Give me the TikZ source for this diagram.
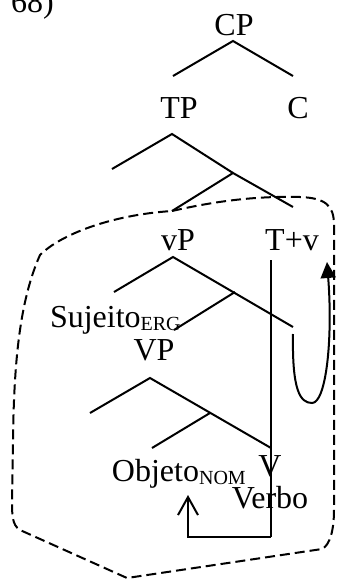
\documentclass[tikz,border=0pt]{standalone}
\usepackage{fontspec}
\setmainfont{Liberation Serif}
\usetikzlibrary{arrows.meta}
\newcommand{\subscr}[1]{\raisebox{-1.5pt}{\fontsize{10}{10}\selectfont #1}}
\begin{document}
\begin{tikzpicture}[x=0.5pt,y=-0.5pt,line width=1pt,
    rotulo/.style={anchor=base,inner sep=0pt,font=\fontsize{16}{19}\selectfont}]
    \useasboundingbox (0,0) rectangle (337,579);
    % Rotulos
    \node[rotulo,anchor=base west] (num) at (10,12) {68)};
    \node[rotulo] (CP) at (234,35) {CP};
    \node[rotulo] (TP) at (179,118) {TP};
    \node[rotulo] (C) at (298,118) {C};
    \node[rotulo] (vP) at (178,250) {vP};
    \node[rotulo] (Tv) at (292,250) {T+v};
    \node[rotulo,anchor=base west] (suj) at (49,327) {Sujeito\subscr{ERG}};
    \node[rotulo] (VP) at (154,360) {VP};
    \node[rotulo,anchor=base west] (obj) at (111,481) {Objeto\subscr{NOM}};
    \node[rotulo] (V) at (270,476) {V};
    \node[rotulo] (verbo) at (270,508) {Verbo};
    % Pontos dos ramos
    \coordinate (cp) at (233,41);
    \coordinate (cpE) at (173,76);
    \coordinate (cpD) at (293,76);
    \coordinate (tp) at (172,134);
    \coordinate (tpE) at (112,169);
    \coordinate (tb) at (233,173);
    \coordinate (tbE) at (172,211);
    \coordinate (tbD) at (293,207);
    \coordinate (vp) at (173,257);
    \coordinate (vpE) at (114,292);
    \coordinate (vb) at (235,292);
    \coordinate (vbE) at (174,330);
    \coordinate (vbD) at (293,327);
    \coordinate (VPa) at (150,378);
    \coordinate (VPE) at (90,413);
    \coordinate (Vb) at (210,413);
    \coordinate (VbE) at (152,448);
    \coordinate (VbD) at (271,448);
    \coordinate (tvTopo) at (271,260);
    \coordinate (tvBase) at (271,537);
    \coordinate (objCanto) at (188,537);
    \coordinate (objPonta) at (188,495);
    % Arvore
    \draw (cpE) -- (cp) -- (cpD);
    \draw (tpE) -- (tp) -- (tb);
    \draw (tbE) -- (tb) -- (tbD);
    \draw (vpE) -- (vp) -- (vbD);
    \draw (vbE) -- (vb);
    \draw (VPE) -- (VPa) -- (VbD);
    \draw (VbE) -- (Vb);
    \draw (tvTopo) -- (tvBase);
    % Movimentos
    \draw[-{Straight Barb[length=9pt,width=10pt]}] (tvBase) -- (objCanto) -- (objPonta);
    \draw[-{Triangle[length=8pt,width=7.5pt]}] (293,334) .. controls (292,390) and (300,403) .. (312,403)
        .. controls (326,403) and (333,340) .. (327,262);
    % Dominio
    \draw[dashed,dash pattern=on 5pt off 2.5pt] (tbE) .. controls (220,200) and (260,196) .. (300,197)
        .. controls (325,198) and (334,205) .. (334,225) -- (334,510)
        .. controls (334,530) and (330,545) .. (322,549) -- (127,578) -- (20,530)
        .. controls (12,525) and (12,515) .. (12,500) -- (13,440)
        .. controls (14,360) and (20,300) .. (40,255)
        .. controls (60,235) and (110,215) .. (tbE);
\end{tikzpicture}
\end{document}
